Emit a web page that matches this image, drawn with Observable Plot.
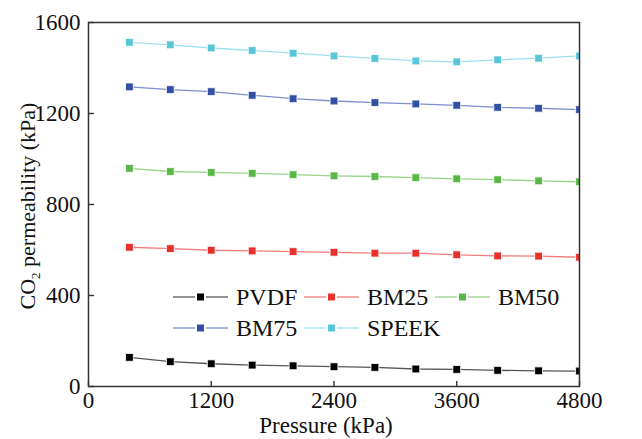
<!DOCTYPE html>
<html>
<head>
<meta charset="utf-8">
<script src="https://cdn.jsdelivr.net/npm/d3@7"></script>
<script src="https://cdn.jsdelivr.net/npm/@observablehq/plot@0.6"></script>
<style>
  html, body { margin: 0; padding: 0; background: #fff; }
  #chart { position: relative; width: 642px; height: 439px; }
  #chart svg { display: block; }
  #chart svg, #chart svg text, #chart svg tspan {
    font-family: "Liberation Serif", "Times New Roman", Times, "DejaVu Serif", serif !important;
  }
</style>
</head>
<body>
<div id="chart"></div>
<script>
// Feed pressure (kPa)
const pressure = [400, 800, 1200, 1600, 2000, 2400, 2800, 3200, 3600, 4000, 4400, 4800];

// CO2 permeability (kPa) for each membrane
const pvdf  = [128, 109, 100, 94, 91, 87, 84, 77, 75, 71, 69, 68];
const bm25  = [612, 606, 599, 596, 593, 590, 586, 586, 579, 574, 573, 568];
const bm50  = [959, 945, 941, 937, 931, 926, 923, 918, 913, 909, 904, 900];
const bm75  = [1317, 1305, 1296, 1280, 1265, 1255, 1248, 1242, 1236, 1227, 1223, 1217];
const speek = [1513, 1502, 1488, 1477, 1465, 1453, 1442, 1431, 1427, 1436, 1443, 1453];

const seriesNames = ["PVDF", "BM25", "BM50", "BM75", "SPEEK"];
const seriesValues = [pvdf, bm25, bm50, bm75, speek];
const markerColors = ["#000000", "#e8302c", "#59b845", "#3350a4", "#5ac6d9"];
const lineColors   = ["#555555", "#f07c7a", "#9bd38c", "#7f8fca", "#9fe0ec"];

const xTicks = [0, 1200, 2400, 3600, 4800];
const yTicks = [0, 400, 800, 1200, 1600];

// Long-format table built from the arrays above
const rows = seriesNames.flatMap((name, i) =>
  pressure.map((p, j) => ({series: name, pressure: p, value: seriesValues[i][j]}))
);

const font = "Liberation Serif, Times New Roman, Times, DejaVu Serif, serif";
const W = 642, H = 439;
const margin = {left: 88, right: 63, top: 22, bottom: 53};

const chart = Plot.plot({
  width: W,
  height: H,
  marginLeft: margin.left,
  marginRight: margin.right,
  marginTop: margin.top,
  marginBottom: margin.bottom,
  style: {fontFamily: font, fontSize: "23px", color: "#111", background: "#fff"},
  x: {domain: [0, 4800]},
  y: {domain: [0, 1600]},
  color: {domain: seriesNames, range: markerColors},
  marks: [
    Plot.line(rows, {
      x: "pressure", y: "value", z: "series",
      stroke: d => lineColors[seriesNames.indexOf(d.series)],
      strokeWidth: 1.3, clip: true
    }),
    Plot.dot(rows, {
      x: "pressure", y: "value", symbol: "square", r: 4.4,
      fill: "series", stroke: "#fff", strokeWidth: 0.8, clip: true
    }),
    Plot.axisX({
      ticks: xTicks, tickFormat: d => String(d), tickSize: -5, tickPadding: 10,
      stroke: "#333", strokeWidth: 1.4, label: null
    }),
    Plot.axisY({
      ticks: yTicks, tickFormat: d => String(d), tickSize: -6, tickPadding: 14,
      stroke: "#333", strokeWidth: 1.4, label: null
    }),
    Plot.frame({stroke: "#333", strokeWidth: 1.5})
  ]
});

document.getElementById("chart").appendChild(chart);

const svg = d3.select(chart);

// X-axis title
svg.append("text")
  .attr("x", 326)
  .attr("y", H - 6)
  .attr("text-anchor", "middle")
  .attr("font-family", font)
  .attr("font-size", 23)
  .attr("fill", "#111")
  .text("Pressure (kPa)");

// Rotated y-axis title with a subscript "2"
const plotMidY = margin.top + (H - margin.top - margin.bottom) / 2;
const yTitle = svg.append("text")
  .attr("transform", `translate(35,${plotMidY + 2}) rotate(-90)`)
  .attr("text-anchor", "middle")
  .attr("font-family", font)
  .attr("font-size", 22)
  .attr("fill", "#111");
yTitle.append("tspan").text("CO");
yTitle.append("tspan").attr("font-size", 13).attr("dy", 5).text("2");
yTitle.append("tspan").attr("dy", -5).text(" permeability (kPa)");

// Legend: line–square–line swatch followed by the series name, three per row
const legend = svg.append("g")
  .attr("font-family", font)
  .attr("font-size", 24)
  .attr("text-anchor", "start")
  .attr("fill", "#111");
const colW = 131, rowH = 31, legX = 173, legY = 297;
seriesNames.forEach((name, i) => {
  const gx = legX + (i % 3) * colW;
  const gy = legY + Math.floor(i / 3) * rowH;
  const g = legend.append("g").attr("transform", `translate(${gx},${gy})`);
  g.append("line").attr("x1", 0).attr("x2", 22).attr("stroke", lineColors[i]).attr("stroke-width", 1.3);
  g.append("line").attr("x1", 33).attr("x2", 55).attr("stroke", lineColors[i]).attr("stroke-width", 1.3);
  g.append("rect").attr("x", 24).attr("y", -3.5).attr("width", 7).attr("height", 7).attr("fill", markerColors[i]);
  g.append("text").attr("x", 63).attr("dy", "0.35em").attr("text-anchor", "start").text(name);
});
</script>
</body>
</html>
